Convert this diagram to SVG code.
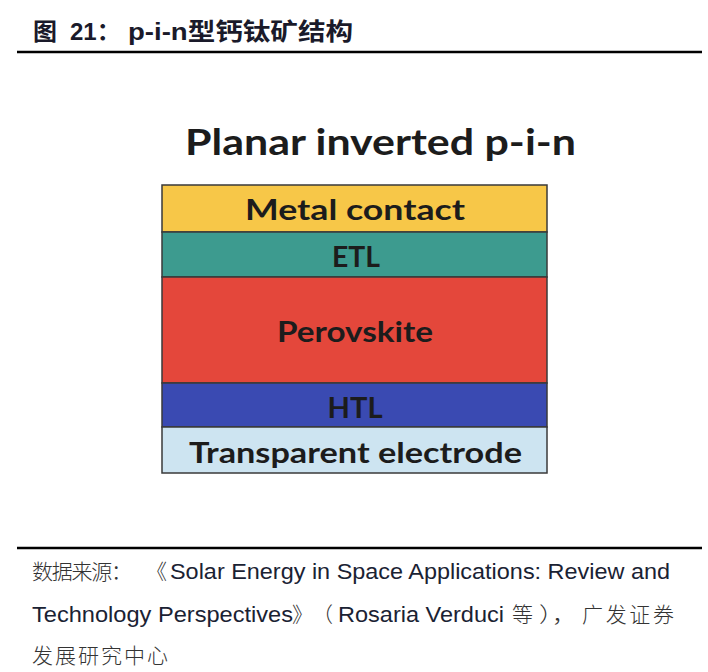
<svg xmlns="http://www.w3.org/2000/svg" width="708" height="672" viewBox="0 0 708 672">
<style>
.ttl{font-family:"Liberation Sans","Noto Sans CJK SC",sans-serif;font-weight:bold;font-size:24px;fill:#1a1a2a}
.src{font-family:"Liberation Sans","Noto Sans CJK SC",sans-serif;font-size:22.5px;fill:#1a2233}
.cjk{font-family:"Noto Sans CJK SC",sans-serif;font-size:21px;fill:#333;font-weight:300}
.lbl{font-family:Lato,"Open Sans",sans-serif;font-weight:bold;font-size:29px;fill:#1c1c1c;text-anchor:middle}
.layer{stroke:#3a3a3a;stroke-width:1.5}
.rule{stroke:#000;stroke-width:2.5}
</style>
<rect width="708" height="672" fill="#fff"/>
<g id="header">
<text class="ttl" x="33" y="40">图</text>
<text class="ttl" x="70" y="40">21：</text>
<text class="ttl" x="128" y="40" textLength="225" lengthAdjust="spacingAndGlyphs">p-i-n型钙钛矿结构</text>
<line class="rule" x1="17" y1="52" x2="702" y2="52"/>
</g>
<g id="diagram-title">
<text x="185" y="155" font-family="Lato,'Open Sans',sans-serif" font-weight="bold" font-size="37" fill="#1c1c1c" textLength="391" lengthAdjust="spacingAndGlyphs">Planar inverted p-i-n</text>
</g>
<g id="metal-contact">
<rect class="layer" x="162" y="185" width="385" height="47" fill="#F7C748"/>
<text class="lbl" x="355" y="220" textLength="220" lengthAdjust="spacingAndGlyphs">Metal  contact</text>
</g>
<g id="etl">
<rect class="layer" x="162" y="232" width="385" height="45" fill="#3D9B8F"/>
<text class="lbl" x="356" y="267" textLength="48" lengthAdjust="spacingAndGlyphs">ETL</text>
</g>
<g id="perovskite">
<rect class="layer" x="162" y="277" width="385" height="106" fill="#E4473B"/>
<text class="lbl" x="355" y="342" textLength="156" lengthAdjust="spacingAndGlyphs">Perovskite</text>
</g>
<g id="htl">
<rect class="layer" x="162" y="383" width="385" height="44" fill="#3A4AB2"/>
<text class="lbl" x="355" y="418" textLength="55" lengthAdjust="spacingAndGlyphs">HTL</text>
</g>
<g id="transparent-electrode">
<rect class="layer" x="162" y="427" width="385" height="46" fill="#CDE4F1"/>
<text class="lbl" x="355.5" y="463" textLength="333" lengthAdjust="spacingAndGlyphs">Transparent electrode</text>
</g>
<g id="footer">
<line class="rule" x1="17" y1="548" x2="702" y2="548"/>
<text class="cjk" x="32" y="579" textLength="100" lengthAdjust="spacing">数据来源：</text>
<text class="cjk" x="146" y="579">《</text>
<text class="src" x="170" y="579" textLength="500" lengthAdjust="spacingAndGlyphs">Solar Energy in Space Applications: Review and</text>
<text class="src" x="32" y="622" textLength="261" lengthAdjust="spacingAndGlyphs">Technology Perspectives</text>
<text class="cjk" x="292" y="622">》</text>
<text class="cjk" x="312" y="622">（</text>
<text class="src" x="338" y="622" textLength="166" lengthAdjust="spacingAndGlyphs">Rosaria Verduci</text>
<text class="cjk" x="512" y="622">等</text>
<text class="cjk" x="539" y="622" textLength="38" lengthAdjust="spacingAndGlyphs">），</text>
<text class="cjk" x="582" y="622" textLength="92" lengthAdjust="spacing">广发证券</text>
<text class="cjk" x="32" y="663" textLength="136" lengthAdjust="spacing">发展研究中心</text>
</g>
</svg>
